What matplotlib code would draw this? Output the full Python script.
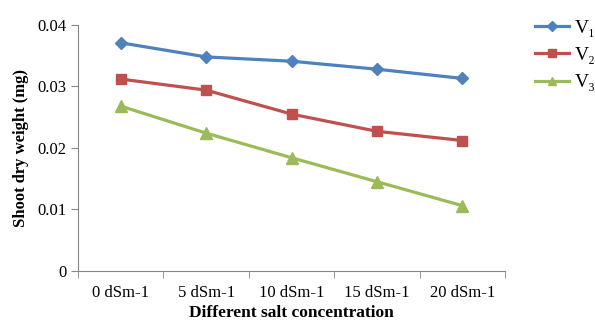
import numpy as np
import matplotlib.pyplot as plt

# salt concentration levels and shoot dry weight (mg) per variety
categories = ['0 dSm-1', '5 dSm-1', '10 dSm-1', '15 dSm-1', '20 dSm-1']
v1 = [0.0371, 0.0348, 0.0341, 0.0328, 0.0313]
v2 = [0.0312, 0.0294, 0.0255, 0.0227, 0.0212]
v3 = [0.0268, 0.0224, 0.0184, 0.0145, 0.0106]
labels = ['V\u2081', 'V\u2082', 'V\u2083']

plt.rcParams['font.family'] = ['Liberation Serif', 'DejaVu Serif']

fig = plt.figure(figsize=(5.95, 3.24), dpi=100)
ax = fig.add_axes([0.131, 0.164, 0.718, 0.759])

x = np.arange(len(categories))
ax.plot(x, v1, color='#4F81BD', lw=2.3, marker='D', ms=6.5, label=labels[0])
ax.plot(x, v2, color='#C0504D', lw=2.3, marker='s', ms=7.5, label=labels[1])
ax.plot(x, v3, color='#9BBB59', lw=2.3, marker='^', ms=8, label=labels[2])

ax.set_xlim(-0.5, len(categories) - 0.5)
ax.set_ylim(0, 0.04)
ax.set_yticks([0, 0.01, 0.02, 0.03, 0.04])
ax.set_yticklabels(['0', '0.01', '0.02', '0.03', '0.04'])
ax.set_xticks(x)
ax.set_xticklabels(categories)
ax.set_xticks(np.arange(-0.5, len(categories)), minor=True)
ax.tick_params(axis='x', which='major', length=0, pad=10, labelsize=12)
ax.tick_params(axis='x', which='minor', length=5, color='#868686')
ax.tick_params(axis='y', length=5, color='#868686', labelsize=12, pad=3)

for s in ['top', 'right']:
    ax.spines[s].set_visible(False)
for s in ['left', 'bottom']:
    ax.spines[s].set_color('#868686')

ax.set_xlabel('Different salt concentration', fontweight='bold', fontsize=12.5, labelpad=3)
ax.set_ylabel('Shoot dry weight (mg)', fontweight='bold', fontsize=12, labelpad=6)

fig.legend(loc='upper left', bbox_to_anchor=(0.87, 0.995), frameon=False,
           fontsize=14, handlelength=1.75, labelspacing=0.5, handletextpad=0.3,
           markerscale=0.8)

fig.savefig('out.png', dpi=100)
